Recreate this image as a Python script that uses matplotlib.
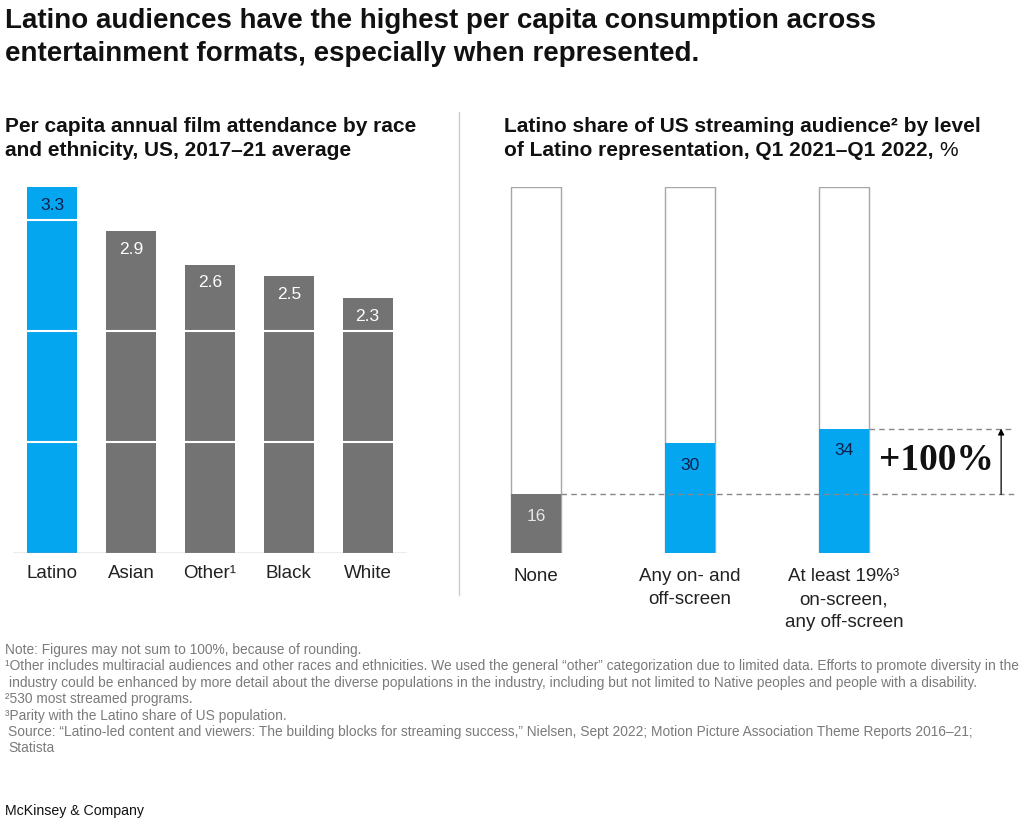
import matplotlib
matplotlib.use("Agg")
import matplotlib.pyplot as plt
from matplotlib import font_manager

# data
film_groups = ["Latino", "Asian", "Other\u00b9", "Black", "White"]
film_values = [3.3, 2.9, 2.6, 2.5, 2.3]
film_colors = ["#05A6F0", "#737373", "#737373", "#737373", "#737373"]

stream_groups = ["None", "Any on- and\noff-screen", "At least 19%\u00b3\non-screen,\nany off-screen"]
stream_values = [16, 30, 34]
stream_colors = ["#737373", "#05A6F0", "#05A6F0"]
stream_total = [100, 100, 100]

W, H = 1023, 821
SANS = "Liberation Sans"
names = {f.name for f in font_manager.fontManager.ttflist}
NARROW = "Liberation Sans Narrow" if "Liberation Sans Narrow" in names else SANS

fig = plt.figure(figsize=(W / 100, H / 100), dpi=100)


def px(x, y):
    return x / W, 1 - y / H


def add_ax(x0, y0, x1, y1):
    return fig.add_axes([x0 / W, 1 - y1 / H, (x1 - x0) / W, (y1 - y0) / H])


# titles
fig.text(*px(5, 21), "Latino audiences have the highest per capita consumption across",
         family=SANS, weight="bold", fontsize=20, va="center", color="#111111")
fig.text(*px(5, 54), "entertainment formats, especially when represented.",
         family=SANS, weight="bold", fontsize=20, va="center", color="#111111")

fig.text(*px(5, 126), "Per capita annual film attendance by race",
         family=SANS, weight="bold", fontsize=15, va="center", color="#111111")
fig.text(*px(5, 151), "and ethnicity, US, 2017\u201321 average",
         family=SANS, weight="bold", fontsize=15, va="center", color="#111111")

fig.text(*px(504, 126), "Latino share of US streaming audience\u00b2 by level",
         family=SANS, weight="bold", fontsize=15, va="center", color="#111111")
t2 = fig.text(*px(504, 151), "of Latino representation, Q1 2021\u2013Q1 2022, ",
              family=SANS, weight="bold", fontsize=15, va="center", color="#111111")
fig.canvas.draw()
bb = t2.get_window_extent()
fig.text(bb.x1 / W, 1 - 151 / H, "%", family=SANS, fontsize=15, va="center", color="#111111")

# divider
fig.add_artist(plt.Line2D([459 / W, 459 / W], [1 - 112 / H, 1 - 595 / H],
                          color="#cccccc", lw=1))

# left chart
ax1 = add_ax(13, 187, 407, 553)
x1 = range(len(film_groups))
ax1.bar(x1, film_values, width=0.635, color=film_colors, zorder=2)
for yv in [1, 2, 3]:
    ax1.axhline(yv, color="white", lw=1.5, zorder=3)
ax1.axhline(0, color="#999999", lw=1, zorder=4)
ax1.set_xlim(-0.5, 4.5)
ax1.set_ylim(0, 3.3)
for i, v in enumerate(film_values):
    c = "#0b1f4d" if i == 0 else "white"
    ax1.text(i, v - 0.165, f"{v:.1f}", ha="center", va="center", fontsize=12.5,
             family=SANS, color=c, zorder=5)
ax1.set_xticks(list(x1))
ax1.set_xticklabels(film_groups, family=SANS, fontsize=13.5, color="#222222")
ax1.tick_params(axis="x", length=0, pad=9)
ax1.set_yticks([])
for s in ax1.spines.values():
    s.set_visible(False)

# right chart
ax2 = add_ax(485, 187, 1015, 553)
x2 = list(range(len(stream_groups)))
bw = 0.325
ax2.bar(x2, stream_total, width=bw, facecolor="white", edgecolor="#a6a6a6", lw=1, zorder=1)
ax2.bar(x2, stream_values, width=bw, color=stream_colors, zorder=2)
ax2.set_xlim(-0.33, 3.11)
ax2.set_ylim(0, 100)
for i, v in enumerate(stream_values):
    c = "#e6e6e6" if i == 0 else "#0b1f4d"
    ax2.text(i, v - 6, f"{v}", ha="center", va="center", fontsize=12.5,
             family=SANS, color=c, zorder=5)
ax2.hlines(stream_values[0], x2[0] + bw / 2, 3.11, colors="#888888", lw=1,
           linestyles=(0, (4, 3)), zorder=3)
ax2.hlines(stream_values[2], x2[2] + bw / 2, 3.11, colors="#888888", lw=1,
           linestyles=(0, (4, 3)), zorder=3)
ax2.annotate("", xy=(3.02, stream_values[2]), xytext=(3.02, stream_values[0]),
             arrowprops=dict(arrowstyle="-|>", color="black", lw=0.9,
                             shrinkA=0, shrinkB=0, mutation_scale=9))
ax2.text(2.6, 25.4, "+100%", family="Liberation Serif", weight="bold", fontsize=27,
         ha="center", va="center", color="#111111")
ax2.set_xticks(x2)
ax2.set_xticklabels(stream_groups, family=SANS, fontsize=13.5, color="#222222",
                    va="top", linespacing=1.45)
ax2.tick_params(axis="x", length=0, pad=11)
ax2.set_yticks([])
for s in ax2.spines.values():
    s.set_visible(False)

# footnotes
notes = [
    (5, "Note: Figures may not sum to 100%, because of rounding."),
    (5, "\u00b9Other includes multiracial audiences and other races and ethnicities. We used the general \u201cother\u201d categorization due to limited data. Efforts to promote diversity in the"),
    (9, "industry could be enhanced by more detail about the diverse populations in the industry, including but not limited to Native peoples and people with a disability."),
    (5, "\u00b2530 most streamed programs."),
    (5, "\u00b3Parity with the Latino share of US population."),
    (8, "Source: \u201cLatino-led content and viewers: The building blocks for streaming success,\u201d Nielsen, Sept 2022; Motion Picture Association Theme Reports 2016\u201321;"),
    (8, "Statista"),
]
for k, (xo, line) in enumerate(notes):
    fig.text(*px(xo, 650 + k * 16.4), line, family=NARROW, fontsize=9.95,
             va="center", color="#7a7a7a")

fig.text(*px(5, 811), "McKinsey & Company", family=NARROW, fontsize=10.2,
         va="center", color="#111111")

fig.savefig("out.png", dpi=100)
